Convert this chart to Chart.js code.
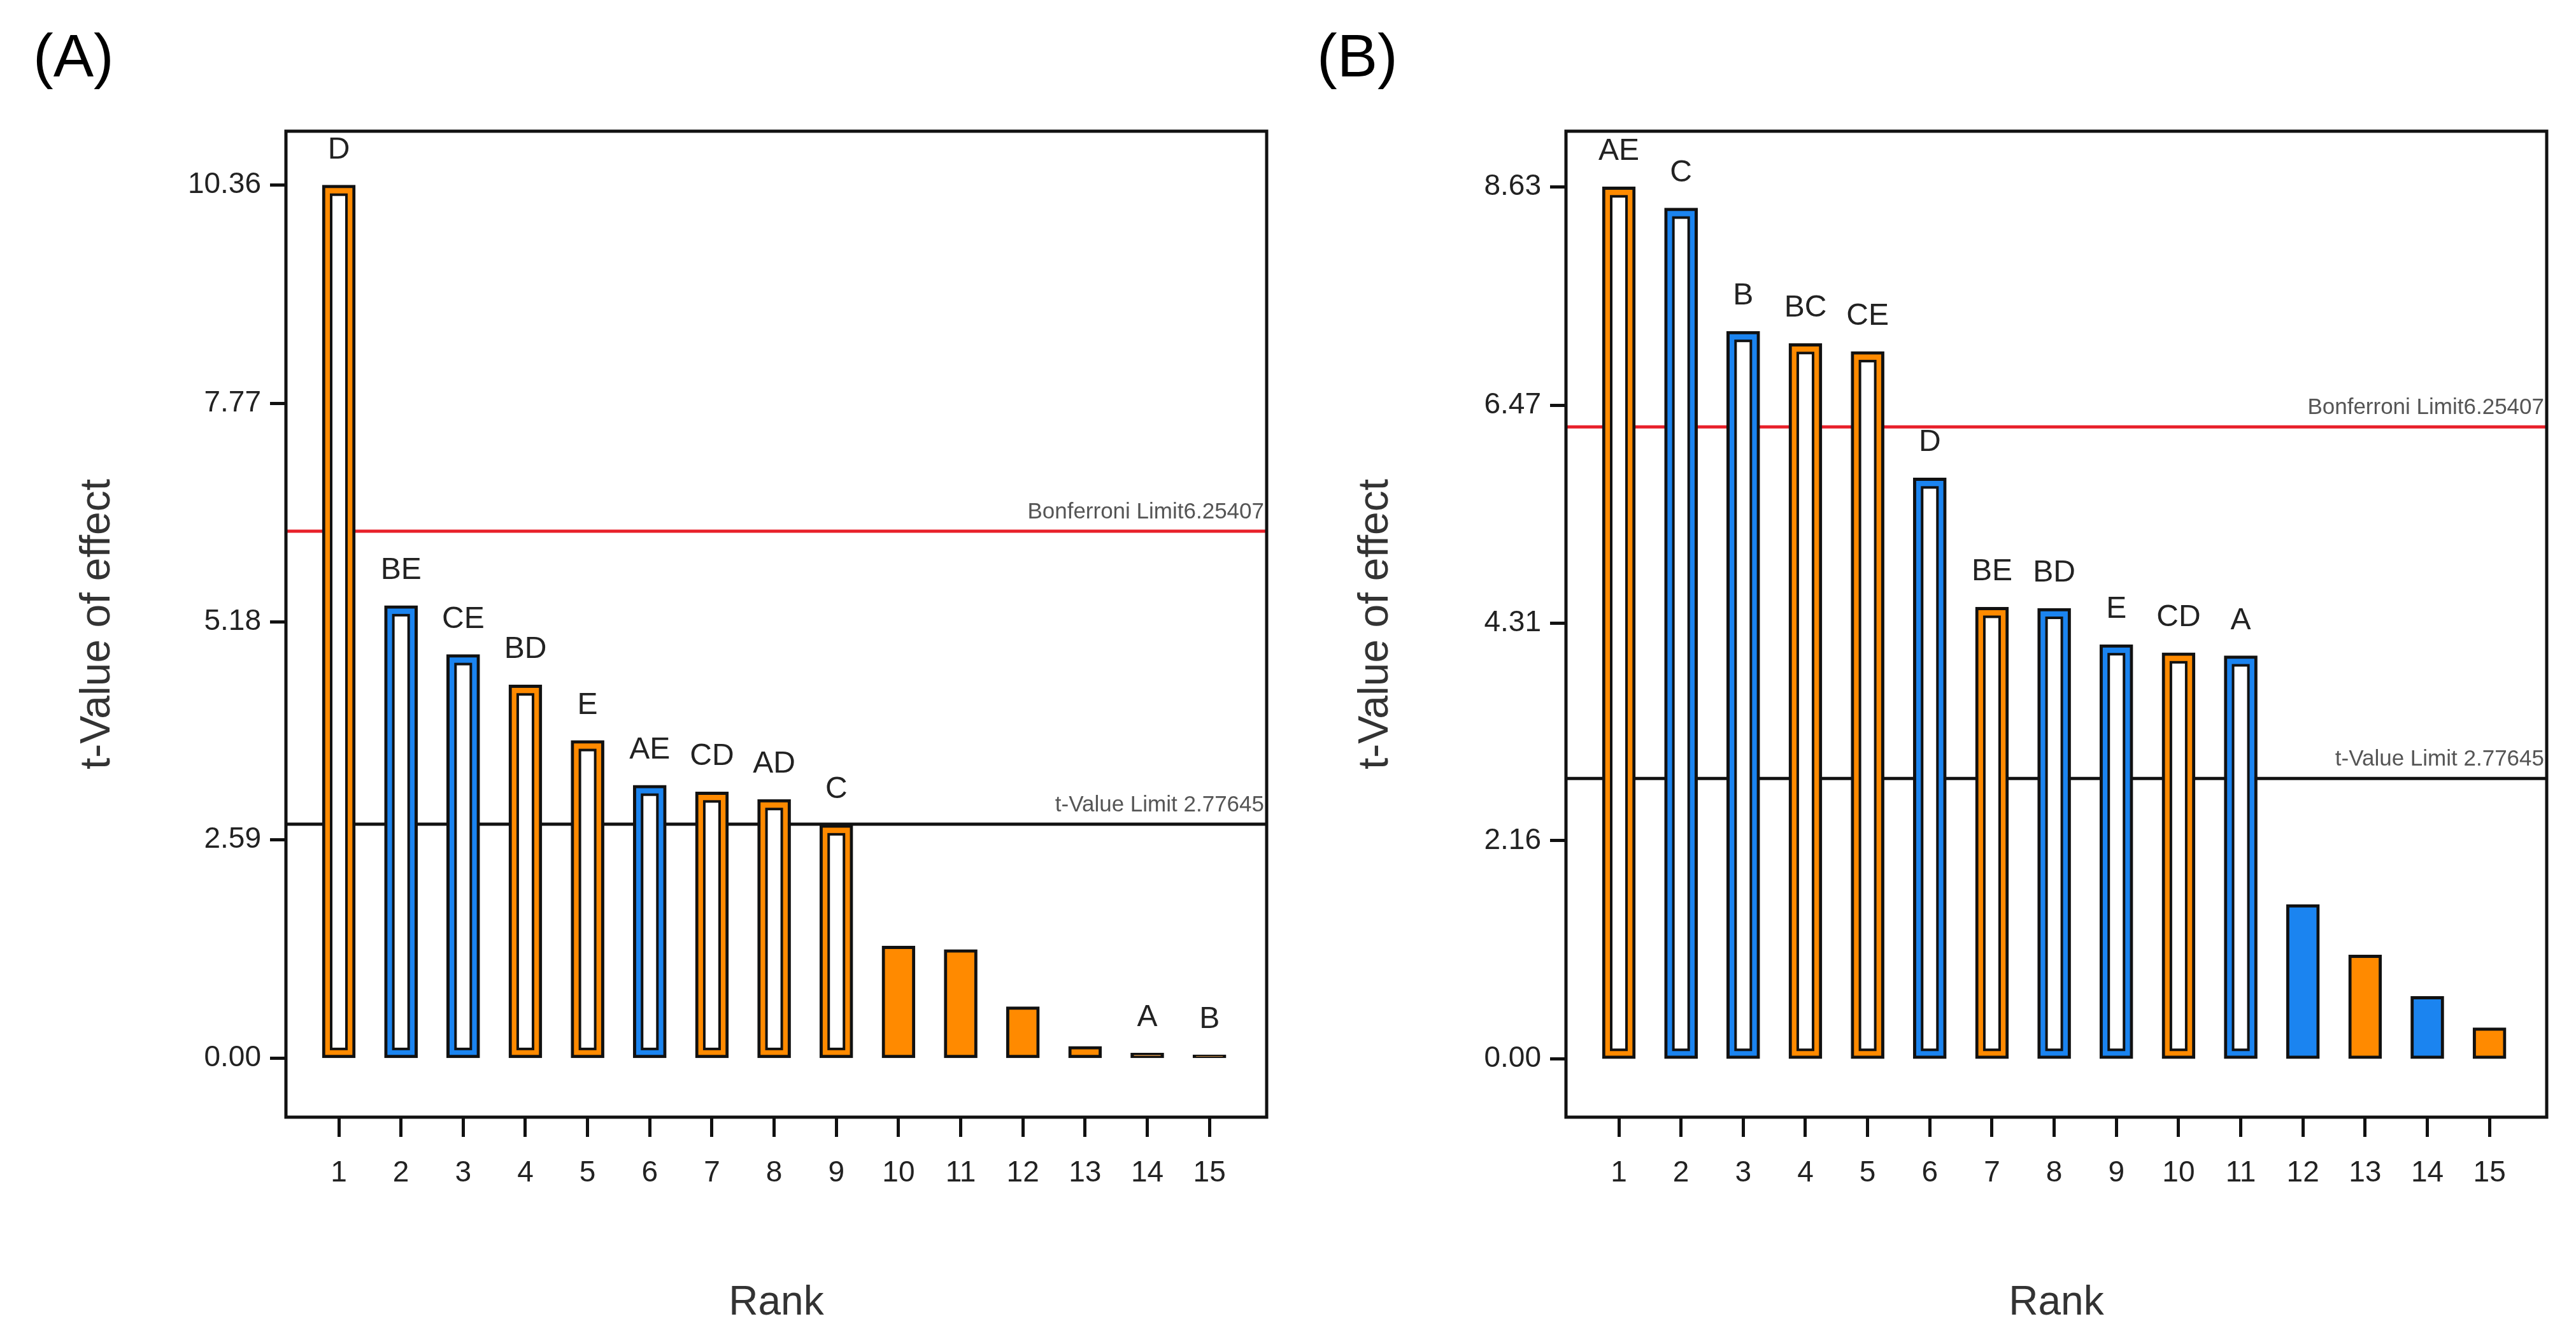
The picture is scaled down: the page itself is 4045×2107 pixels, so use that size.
<!DOCTYPE html>
<html lang="en">
<head>
<meta charset="UTF-8">
<title>t-Value of effect Pareto charts</title>
<script src="https://cdn.jsdelivr.net/npm/chart.js@4.4.1/dist/chart.umd.min.js"></script>
<style>
    body {
        margin: 0;
        background: #fff;
        font-family: "Liberation Sans", Arial, sans-serif;
    }
    #page {
        position: relative;
        width: 4045px;
        height: 2107px;
        overflow: hidden;
        background: #fff;
    }
    .panel {
        position: absolute;
        top: 0;
        height: 2107px;
    }
    #panelA { left: 0; width: 2022px; }
    #panelB { left: 2022px; width: 2023px; }
    .tag {
        position: absolute;
        top: 40px;
        font-size: 95px;
        line-height: 1;
        color: #000;
    }
</style>
</head>
<body>
<div id="page">
    <div class="panel" id="panelA"><canvas id="chartA"></canvas></div>
    <div class="panel" id="panelB"><canvas id="chartB"></canvas></div>
    <div class="tag" style="left:52px">(A)</div>
    <div class="tag" style="left:2068px">(B)</div>
</div>
<script>
// ranks shared by both panels
const ranks = [1, 2, 3, 4, 5, 6, 7, 8, 9, 10, 11, 12, 13, 14, 15];

// panel A
const termsA = ['D', 'BE', 'CE', 'BD', 'E', 'AE', 'CD', 'AD', 'C', '', '', '', '', 'A', 'B'];
const tValuesA = [10.36, 5.37, 4.79, 4.43, 3.77, 3.24, 3.16, 3.07, 2.77, 1.33, 1.29, 0.61, 0.14, 0.06, 0.04];
const signA = ['+', '-', '-', '+', '+', '-', '+', '+', '+', '+', '+', '+', '+', '+', '+'];
const hollowA = [true, true, true, true, true, true, true, true, true, false, false, false, false, false, false];
const yTicksA = [0, 2.59, 5.18, 7.77, 10.36];
const yTickLabelsA = ['0.00', '2.59', '5.18', '7.77', '10.36'];
const bonferroniA = 6.25407;
const tLimitA = 2.77645;

// panel B
const termsB = ['AE', 'C', 'B', 'BC', 'CE', 'D', 'BE', 'BD', 'E', 'CD', 'A', '', '', '', ''];
const tValuesB = [8.63, 8.42, 7.20, 7.08, 7.00, 5.75, 4.47, 4.46, 4.10, 4.02, 3.99, 1.53, 1.03, 0.62, 0.31];
const signB = ['+', '-', '-', '+', '+', '-', '+', '-', '-', '+', '-', '-', '+', '-', '+'];
const hollowB = [true, true, true, true, true, true, true, true, true, true, true, false, false, false, false];
const yTicksB = [0, 2.16, 4.31, 6.47, 8.63];
const yTickLabelsB = ['0.00', '2.16', '4.31', '6.47', '8.63'];
const bonferroniB = 6.25407;
const tLimitB = 2.77645;

const ORANGE = '#ff8a00';
const BLUE = '#1b84f0';
const INK = '#111';

function makeChart(id, p) {
    const paretoPlugin = {
        id: 'pareto_' + id,
        beforeDatasetsDraw(chart) {
            const {ctx, chartArea: a, scales: {y}} = chart;
            ctx.save();
            const lines = [
                {v: p.bonferroni, color: '#e8202a', text: 'Bonferroni Limit' + p.bonferroni},
                {v: p.tLimit, color: INK, text: 't-Value Limit ' + p.tLimit}
            ];
            lines.forEach(l => {
                const py = y.getPixelForValue(l.v);
                ctx.strokeStyle = l.color;
                ctx.lineWidth = 5;
                ctx.beginPath();
                ctx.moveTo(a.left, py);
                ctx.lineTo(a.right, py);
                ctx.stroke();
                ctx.fillStyle = '#555';
                ctx.font = '35px "Liberation Sans", Arial, sans-serif';
                ctx.textAlign = 'right';
                ctx.textBaseline = 'alphabetic';
                ctx.fillText(l.text, a.right - 4, py - 20);
            });
            ctx.restore();
        },
        afterDatasetsDraw(chart) {
            const {ctx, chartArea: a} = chart;
            const meta = chart.getDatasetMeta(0);
            ctx.save();
            meta.data.forEach((bar, i) => {
                const {x, y, base, width} = bar.getProps(['x', 'y', 'base', 'width'], true);
                const left = x - width / 2;
                const top = Math.min(y, base);
                const h = Math.abs(base - y);
                if (p.hollow[i] && h > 40) {
                    ctx.fillStyle = INK;
                    ctx.fillRect(left + 12, top + 13, width - 24, h - 25);
                    ctx.fillStyle = '#fff';
                    ctx.fillRect(left + 16, top + 17, width - 32, h - 33);
                }
                if (p.terms[i]) {
                    ctx.fillStyle = '#222';
                    ctx.font = '48px "Liberation Sans", Arial, sans-serif';
                    ctx.textAlign = 'center';
                    ctx.textBaseline = 'alphabetic';
                    ctx.fillText(p.terms[i], x, top - 42);
                }
            });
            // plot frame
            ctx.strokeStyle = INK;
            ctx.lineWidth = 5;
            ctx.strokeRect(a.left, a.top, a.right - a.left, a.bottom - a.top);
            ctx.restore();
        }
    };

    return new Chart(document.getElementById(id), {
        type: 'bar',
        data: {
            datasets: [{
                data: p.values.map((v, i) => ({x: ranks[i], y: v})),
                backgroundColor: p.sign.map(s => s === '+' ? ORANGE : BLUE),
                borderColor: INK,
                borderWidth: 5,
                borderSkipped: false,
                barThickness: 52
            }]
        },
        options: {
            responsive: true,
            maintainAspectRatio: false,
            animation: false,
            layout: {padding: {top: 206, right: p.padRight, left: 0, bottom: 0}},
            plugins: {legend: {display: false}, tooltip: {enabled: false}},
            scales: {
                x: {
                    type: 'linear',
                    min: 0.15,
                    max: 15.92,
                    offset: false,
                    afterBuildTicks: s => { s.ticks = ranks.map(v => ({value: v})); },
                    afterFit: s => { s.height = 353; },
                    ticks: {
                        callback: v => String(v),
                        autoSkip: false,
                        maxRotation: 0,
                        color: '#222',
                        padding: 30,
                        font: {family: '"Liberation Sans", Arial, sans-serif', size: 46}
                    },
                    grid: {
                        offset: false,
                        drawOnChartArea: false,
                        drawTicks: true,
                        tickLength: 31,
                        tickWidth: 5,
                        tickColor: INK
                    },
                    border: {display: false},
                    title: {
                        display: true,
                        text: 'Rank',
                        color: '#333',
                        padding: {top: 0, bottom: 22},
                        font: {family: '"Liberation Sans", Arial, sans-serif', size: 64}
                    }
                },
                y: {
                    type: 'linear',
                    min: p.yMin,
                    max: p.yMax,
                    afterBuildTicks: s => { s.ticks = p.yTicks.map(v => ({value: v})); },
                    afterFit: s => { s.width = p.axisWidth; },
                    ticks: {
                        callback: (v, i) => p.yTickLabels[i],
                        color: '#222',
                        padding: 14,
                        font: {family: '"Liberation Sans", Arial, sans-serif', size: 46}
                    },
                    grid: {
                        drawOnChartArea: false,
                        drawTicks: true,
                        tickLength: 25,
                        tickWidth: 5,
                        tickColor: INK
                    },
                    border: {display: false},
                    title: {
                        display: true,
                        text: 't-Value of effect',
                        color: '#333',
                        padding: {top: p.titlePad, bottom: 0},
                        font: {family: '"Liberation Sans", Arial, sans-serif', size: 66}
                    }
                }
            }
        },
        plugins: [paretoPlugin]
    });
}

makeChart('chartA', {
    terms: termsA, values: tValuesA, sign: signA, hollow: hollowA,
    yTicks: yTicksA, yTickLabels: yTickLabelsA,
    bonferroni: bonferroniA, tLimit: tLimitA,
    yMin: -0.7, yMax: 11.0, axisWidth: 449, padRight: 33, titlePad: 114
});

makeChart('chartB', {
    terms: termsB, values: tValuesB, sign: signB, hollow: hollowB,
    yTicks: yTicksB, yTickLabels: yTickLabelsB,
    bonferroni: bonferroniB, tLimit: tLimitB,
    yMin: -0.575, yMax: 9.18, axisWidth: 437, padRight: 46, titlePad: 99
});
</script>
</body>
</html>
